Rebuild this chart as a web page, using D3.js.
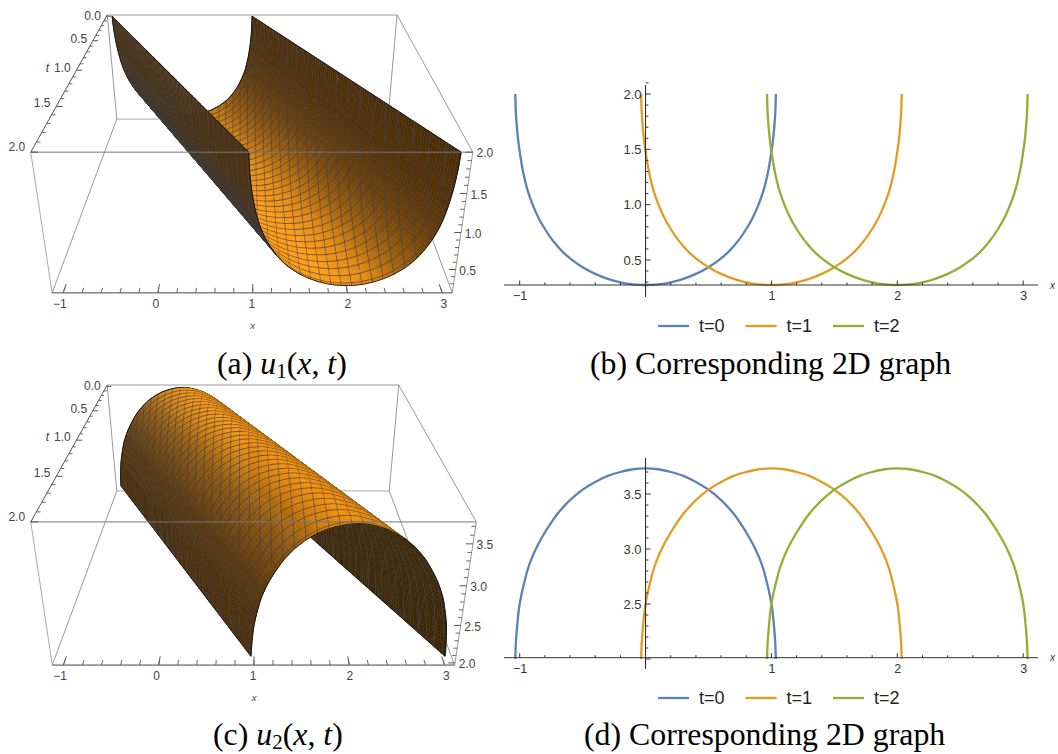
<!DOCTYPE html>
<html><head><meta charset="utf-8">
<style>html,body{margin:0;padding:0;background:#fff}svg{display:block}</style>
<script src="https://cdnjs.cloudflare.com/ajax/libs/d3/7.8.5/d3.min.js"></script>
</head><body><svg id="c" width="1058" height="754"></svg>
<script>
// ---------- values ----------
const timeValues = [0, 1, 2];
const seriesNames = ["t=0", "t=1", "t=2"];
const seriesColors = ["#5E81B5", "#E19C24", "#8FB032"];
const offsets = [0, .1, .2, .3, .4, .5, .6, .65, .7, .75, .8, .85, .89, .92, .94, .97, .985, 1.0, 1.01, 1.02, 1.03, 1.035];
const u1Half = [.274, .28, .298, .33, .375, .435, .515, .565, .625, .695, .78, .88, .98, 1.07, 1.14, 1.28, 1.37, 1.48, 1.56, 1.67, 1.82, 2.0];
const u2Half = [3.733, 3.725, 3.70, 3.665, 3.61, 3.54, 3.445, 3.385, 3.32, 3.24, 3.15, 3.05, 2.955, 2.87, 2.80, 2.665, 2.59, 2.5, 2.42, 2.3, 2.15, 2.0];
const xMajor = [-1, 0, 1, 2, 3];
const xMinor = [-.8,-.6,-.4,-.2,.2,.4,.6,.8,1.2,1.4,1.6,1.8,2.2,2.4,2.6,2.8];
const xMinor3D = [-1.0,-.8,-.6,-.4,-.2,0,.2,.4,.6,.8,1,1.2,1.4,1.6,1.8,2,2.2,2.4,2.6,2.8,3];
const tLabels3D = [0, .5, 1, 1.5, 2];
const tMinor3D = [.1,.2,.3,.4,.6,.7,.8,.9,1.1,1.2,1.3,1.4,1.6,1.7,1.8,1.9];
const u1Major = [.5, 1, 1.5, 2];
const u1Minor = [.3,.4,.6,.7,.8,.9,1.1,1.2,1.3,1.4,1.6,1.7,1.8,1.9,2.1];
const u2Major = [2, 2.5, 3, 3.5];
const u2Labeled = [2.5, 3, 3.5];
const u2Minor = [2.1,2.2,2.3,2.4,2.6,2.7,2.8,2.9,3.1,3.2,3.3,3.4,3.6,3.7];
const z1Major = [.5, 1, 1.5, 2];
const z2Major = [2, 2.5, 3, 3.5];
const z1Minor = [.3,.4,.6,.7,.8,.9,1.1,1.2,1.3,1.4,1.6,1.7,1.8,1.9];

const svg = d3.select("#c");
const SANS = "'Liberation Sans',Arial,sans-serif", SERIF = "'Liberation Serif','Times New Roman',serif";
const fullDx = [...offsets.slice(1).reverse().map(d => -d), ...offsets];
const mirror = h => [...h.slice(1).reverse(), ...h];
const prof1 = d3.scaleLinear(fullDx, mirror(u1Half));
const prof2 = d3.scaleLinear(fullDx, mirror(u2Half));

// ---------- 2D panels ----------
function panel2D(o) {
  const x = d3.scaleLinear([-1, 3], [519.7, 1023.2]);
  const y = d3.scaleLinear(o.yRef, o.yRefPx);
  const g = svg.append("g");
  const yAxisY = y(o.axisU);
  const prof = mirror(o.half);
  timeValues.forEach((t, i) => {
    const pts = fullDx.map((d, k) => [d + t, prof[k]]);
    const lin = d3.line().x(d => x(d[0])).y(d => y(d[1])).curve(d3.curveCatmullRom.alpha(.5));
    g.append("path").attr("d", lin(pts)).attr("fill", "none")
      .attr("stroke", seriesColors[i]).attr("stroke-width", 2.3);
  });
  const xMaj = d3.axisBottom(x).tickValues(xMajor).tickSize(0).tickFormat(d => d === 0 ? "" : (d < 0 ? "\u2212" + (-d) : d));
  const gx = g.append("g").attr("transform", `translate(0,${yAxisY})`).call(xMaj);
  gx.select(".domain").remove();
  gx.selectAll("text").attr("font-family", SANS).attr("font-size", 12.5).attr("fill", "#333").attr("y", 6).attr("dy", ".71em");
  g.append("line").attr("x1", 504).attr("x2", 1038).attr("y1", yAxisY).attr("y2", yAxisY).attr("stroke", "#333").attr("stroke-width", 1);
  g.selectAll(null).data(xMajor.filter(d => d)).enter().append("line")
    .attr("x1", x).attr("x2", x).attr("y1", yAxisY).attr("y2", yAxisY - 4.5).attr("stroke", "#333");
  g.selectAll(null).data(xMinor).enter().append("line")
    .attr("x1", x).attr("x2", x).attr("y1", yAxisY).attr("y2", yAxisY - 2.5).attr("stroke", "#333");
  const x0 = x(0);
  g.append("line").attr("x1", x0).attr("x2", x0).attr("y1", o.yTop).attr("y2", o.yBot).attr("stroke", "#222").attr("stroke-width", 1);
  g.selectAll(null).data(o.major).enter().append("line")
    .attr("x1", x0).attr("x2", x0 + 5).attr("y1", y).attr("y2", y).attr("stroke", "#333");
  g.selectAll(null).data(o.minor).enter().append("line")
    .attr("x1", x0).attr("x2", x0 + 2.8).attr("y1", y).attr("y2", y).attr("stroke", "#333");
  g.selectAll(null).data(o.labeled).enter().append("text").text(d => d.toFixed(1))
    .attr("x", x0 - 4).attr("y", y).attr("dy", ".36em").attr("text-anchor", "end")
    .attr("font-family", SANS).attr("font-size", 13).attr("fill", "#333");
  g.append("text").text("x").attr("x", 1050).attr("y", yAxisY + 3.5).attr("font-family", SANS)
    .attr("font-style", "italic").attr("font-size", 10).attr("fill", "#333");
  const lx = d3.scalePoint(timeValues, [658, 833]);
  timeValues.forEach((t, i) => {
    g.append("line").attr("x1", lx(t)).attr("x2", lx(t) + 31).attr("y1", o.legendY).attr("y2", o.legendY)
      .attr("stroke", seriesColors[i]).attr("stroke-width", 2.3);
    g.append("text").text(seriesNames[i]).attr("x", lx(t) + 41).attr("y", o.legendY).attr("dy", ".36em")
      .attr("font-family", SANS).attr("font-size", 18).attr("fill", "#222");
  });
}
panel2D({half: u1Half, yRef: [.5, 2], yRefPx: [260, 94], axisU: .274, yTop: 85, yBot: 297,
  major: u1Major, minor: u1Minor, labeled: u1Major, legendY: 326});
panel2D({half: u2Half, yRef: [2.5, 3.5], yRefPx: [604, 494], axisU: 2.012, yTop: 458, yBot: 669,
  major: u2Major, minor: u2Minor, labeled: u2Labeled, legendY: 698});

// ---------- 3D panels ----------
function solve(A, b) {
  const n = b.length, M = A.map((r, i) => [...r, b[i]]);
  for (let i = 0; i < n; i++) {
    let p = i; for (let r = i + 1; r < n; r++) if (Math.abs(M[r][i]) > Math.abs(M[p][i])) p = r;
    [M[i], M[p]] = [M[p], M[i]];
    for (let r = 0; r < n; r++) if (r !== i) { const f = M[r][i] / M[i][i]; for (let c = i; c <= n; c++) M[r][c] -= f * M[i][c]; }
  }
  return M.map((r, i) => r[n] / r[i]);
}
function cameraFrom(corners) {
  const rows = [], rhs = [];
  corners.forEach(([X, Y, Z, u0, v0]) => {
    const u = u0 / 500, v = v0 / 500;
    rows.push([X, Y, Z, 1, 0, 0, 0, 0, -u * X, -u * Y, -u * Z]); rhs.push(u);
    rows.push([0, 0, 0, 0, X, Y, Z, 1, -v * X, -v * Y, -v * Z]); rhs.push(v);
  });
  const N = 11, ATA = d3.range(N).map(i => d3.range(N).map(j => d3.sum(rows, r => r[i] * r[j])));
  const ATb = d3.range(N).map(i => d3.sum(rows, (r, k) => r[i] * rhs[k]));
  const p = solve(ATA, ATb);
  const proj = (X, Y, Z) => { const w = p[8] * X + p[9] * Y + p[10] * Z + 1;
    return [500 * (p[0] * X + p[1] * Y + p[2] * Z + p[3]) / w, 500 * (p[4] * X + p[5] * Y + p[6] * Z + p[7]) / w]; };
  const C = solve([[p[0], p[1], p[2]], [p[4], p[5], p[6]], [p[8], p[9], p[10]]], [-p[3], -p[7], -1]);
  return {proj, C};
}
function panel3D(o) {
  const g = svg.append("g");
  const T0 = -.03, T1 = 2, MX = .11;
  const nx = d3.scaleLinear(o.xDom, [0, 1]), nt = d3.scaleLinear([T0, T1], [0, 1]), nz = d3.scaleLinear(o.zDom, [0, 1]);
  const cam = cameraFrom(o.corners);
  const P = (x, t, z) => cam.proj(nx(x), nt(t), nz(z));
  const seg = (par, a, b, st, w) => par.append("line").attr("x1", a[0]).attr("y1", a[1]).attr("x2", b[0]).attr("y2", b[1]).attr("stroke", st).attr("stroke-width", w || 1);
  const [x0, x1] = o.xDom, [z0, z1] = o.zDom;
  seg(g, P(x0,T0,z1), P(x1,T0,z1), "#bbb", 1.5);
  seg(g, P(x0,T0,z1), P(x0,T0,z0), "#999");
  seg(g, P(x1,T0,z1), P(x1,T0,z0), "#999");
  seg(g, P(x0,T0,z0), P(x1,T0,z0), "#aaa");
  seg(g, P(x0,T0,z0), P(x0,T1,z0), "#999");
  seg(g, P(x1,T0,z0), P(x1,T1,z0), "#999");
  seg(g, P(x1,T0,z1), P(x1,T1,z1), "#999");
  seg(g, P(x0,T1,z1), P(x0,T1,z0), "#aaa");
  seg(g, P(x1,T1,z1), P(x1,T1,z0), "#999");
  const sLim = o.sLim, sGrid = [];
  for (let s = -sLim; s < -1.0; s += .004) sGrid.push(s);
  for (let s = -1.0; s < -.9; s += .0125) sGrid.push(s);
  for (let s = -.9; s < .9; s += .025) sGrid.push(s);
  for (let s = .9; s < 1.0; s += .0125) sGrid.push(s);
  for (let s = 1.0; s < sLim; s += .004) sGrid.push(s);
  sGrid.push(sLim);
  const tGrid = d3.range(0, 100.5).map(i => i * .02);
  const up = d3.scaleLinear(o.upS, o.upC).interpolate(d3.interpolateRgb).clamp(true);
  const back = d3.scaleLinear(o.backS, o.backC).interpolate(d3.interpolateRgb).clamp(true);
  const u = o.prof, K = o.sScale, SH = o.sShift;
  const pt = (s, t) => P(s * K + SH + t, t, u(s));
  const cells = [];
  const fmt = p => p[0].toFixed(2) + "," + p[1].toFixed(2);
  for (let i = 0; i < sGrid.length - 1; i++) for (let j = 0; j < tGrid.length - 1; j++) {
    const s0 = sGrid[i], s1 = sGrid[i + 1], t0 = tGrid[j], t1 = tGrid[j + 1];
    const a = pt(s0, t0), b = pt(s1, t0), c = pt(s1, t1), d = pt(s0, t1);
    const cross = ((b[0] - a[0]) + (c[0] - d[0])) * ((d[1] - a[1]) + (c[1] - b[1])) - ((b[1] - a[1]) + (c[1] - d[1])) * ((d[0] - a[0]) + (c[0] - b[0]));
    const sm = (s0 + s1) / 2, tm = (t0 + t1) / 2;
    const wx = nx(sm * K + SH + tm), wy = nt(tm), wz = nz(u(sm));
    const dist = Math.hypot(wx - cam.C[0], wy - cam.C[1], wz - cam.C[2]);
    const col = cross > 0 ? up(sm) : back(sm);
    let mesh = "";
    if (j % 3 === 0) mesh += "M" + fmt(a) + "L" + fmt(b);
    const lo = s0 + t0, hi = s1 + t1;
    for (let k = Math.ceil((lo + .03) / MX - 1e-9); k * MX - .03 < hi; k++) {
      const cx = k * MX - .03;
      const ends = [];
      [[cx - t0, t0], [cx - t1, t1]].forEach(([s, t]) => { if (s >= s0 && s <= s1) ends.push([s, t]); });
      [[s0, cx - s0], [s1, cx - s1]].forEach(([s, t]) => { if (t > t0 && t < t1) ends.push([s, t]); });
      if (ends.length >= 2) mesh += "M" + fmt(pt(ends[0][0], ends[0][1])) + "L" + fmt(pt(ends[1][0], ends[1][1]));
    }
    let edge = "";
    if (j === 0) edge += "M" + fmt(a) + "L" + fmt(b);
    if (j === tGrid.length - 2) edge += "M" + fmt(d) + "L" + fmt(c);
    if (i === 0) edge += "M" + fmt(a) + "L" + fmt(d);
    if (i === sGrid.length - 2) edge += "M" + fmt(b) + "L" + fmt(c);
    cells.push({dist, col, d: "M" + fmt(a) + "L" + fmt(b) + "L" + fmt(c) + "L" + fmt(d) + "Z", mesh, edge});
  }
  cells.sort((p, q) => q.dist - p.dist);
  const sg = g.append("g").attr("stroke-linejoin", "round");
  cells.forEach(c => {
    sg.append("path").attr("d", c.d).attr("fill", c.col).attr("stroke", c.col).attr("stroke-width", .5);
    if (c.mesh) sg.append("path").attr("d", c.mesh).attr("fill", "none").attr("stroke", "#444").attr("stroke-width", 1).attr("stroke-opacity", .8);
    if (c.edge) sg.append("path").attr("d", c.edge).attr("fill", "none").attr("stroke", "#111").attr("stroke-width", 1);
  });
  seg(g, P(x0,T1,z1), P(x1,T1,z1), "#777", 1);
  seg(g, P(x0,T0,z1), P(x0,T1,z1), "#555", 1);
  seg(g, P(x0,T1,z0), P(x1,T1,z0), "#444", 1);
  const txt = (t, p, dx, dy, extra) => g.append("text").text(t).attr("x", p[0] + dx).attr("y", p[1] + dy).attr("dy", ".36em")
    .attr("text-anchor", "middle").attr("font-family", SANS).attr("font-size", 12).attr("fill", "#444").attr("font-style", extra || null);
  xMajor.forEach(v => { seg(g, P(v,T1,z0), P(v,1.93,z0), "#555"); txt(v < 0 ? "\u2212" + (-v) : v, P(v,T1,z0), -2 + v * 1.2, 11); });
  xMinor3D.forEach(v => seg(g, P(v,T1,z0), P(v,1.96,z0), "#666"));
  txt("x", P(1,T1,z0), 0, 33, "italic").attr("font-size", 9.5);
  tLabels3D.forEach(v => { seg(g, P(x0,v,z1), P(x0 + .07,v,z1), "#555"); txt(v.toFixed(1), P(x0,v,z1), -14, -1 - v * 2); });
  tMinor3D.forEach(v => seg(g, P(x0,v,z1), P(x0 + .04,v,z1), "#666"));
  txt("t", P(x0,1,z1), -29, -3, "italic");
  o.zMajor.forEach(v => { seg(g, P(x1,T1,v), P(x1 - .07,T1,v), "#555"); txt(v.toFixed(1), P(x1,T1,v), 12, 1); });
  o.zMinor.forEach(v => seg(g, P(x1,T1,v), P(x1 - .04,T1,v), "#666"));
}
const boxA = [[0,0,1,107,15],[1,0,1,397,15],[0,1,1,31,152],[1,1,1,473,152],[0,1,0,52,293],[1,1,0,452,293],[0,0,0,117,119],[1,0,0,388,119]];
const boxC = [[0,0,1,107,385],[1,0,1,399,385],[0,1,1,31,522],[1,1,1,476,522],[0,1,0,52,665],[1,1,0,455,665],[0,0,0,117,491],[1,0,0,389,491]];
panel3D({corners: boxA, xDom: [-1.116, 3.105], zDom: [.17, 2.0], prof: prof1, sLim: 1.035, sScale: .98, sShift: -.02, zMajor: z1Major, zMinor: z1Minor,
  upS: [-1.03, -.97, -.85, -.5, -.1, .3, .6, .85, 1.03],
  upC: ["#4a3010", "#7a4a0c", "#d88210", "#ff9a14", "#ff9a14", "#e08610", "#a05f0c", "#6c400a", "#4e2c06"],
  backS: [-1.03, -.85, -.4], backC: ["#4c3010", "#3c3a38", "#3a3a3a"]});
panel3D({corners: boxC, xDom: [-1.116, 3.105], zDom: [1.97, 3.75], prof: prof2, sLim: 1.032, sScale: .98, sShift: -.02, zMajor: z2Major, zMinor: u2Minor,
  upS: [-1.03, -.9, -.6, -.3, 0, .3, .6, 1.03],
  upC: ["#4a2c08", "#5c370a", "#8f5810", "#d88210", "#fc9814", "#e88c10", "#6e420b", "#3a2606"],
  backS: [-1.03, 1.03], backC: ["#3c2608", "#3c2608"]});

// ---------- captions ----------
function caption(x, y, parts) {
  const t = svg.append("text").attr("x", x).attr("y", y).attr("font-family", SERIF).attr("font-size", 31.8).attr("fill", "#000");
  parts.forEach(([s, style]) => {
    const sp = t.append("tspan").text(s);
    if (style === "i") sp.attr("font-style", "italic");
    if (style === "sub") sp.attr("font-size", 21).attr("dy", 4);
    if (style === "after") sp.attr("dy", -4);
  });
}
caption(217, 374, [["(a) "], ["u", "i"], ["1", "sub"], ["(", "after"], ["x", "i"], [", "], ["t", "i"], [")"]]);
caption(213, 745, [["(c) "], ["u", "i"], ["2", "sub"], ["(", "after"], ["x", "i"], [", "], ["t", "i"], [")"]]);
caption(590, 374, [["(b) Corresponding 2D graph"]]);
caption(584, 745, [["(d) Corresponding 2D graph"]]);
</script></body></html>
